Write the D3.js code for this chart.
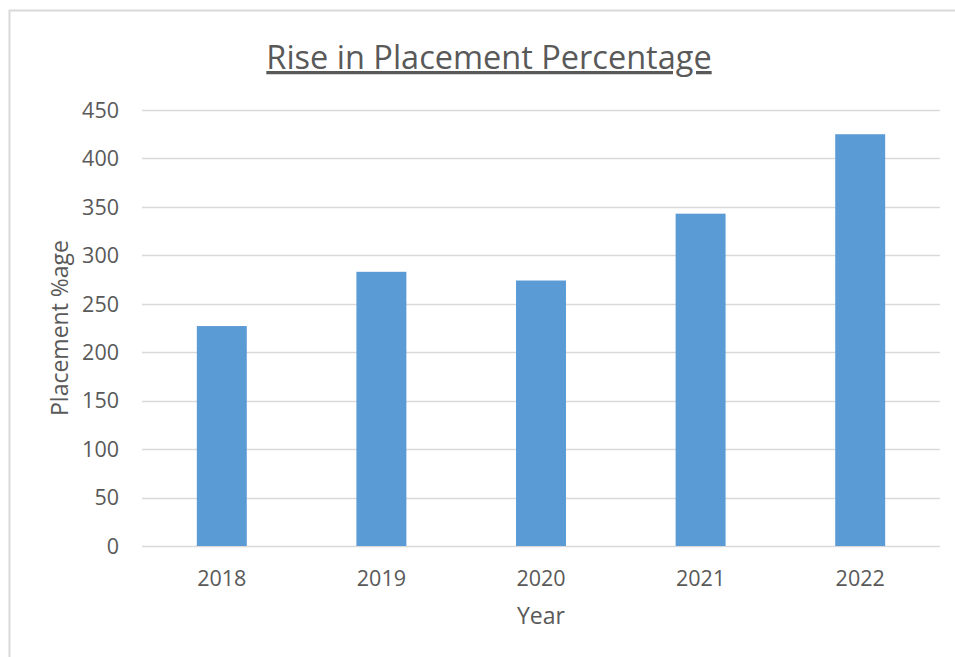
<!DOCTYPE html>
<html>
<head>
<meta charset="utf-8">
<script src="https://cdn.jsdelivr.net/npm/d3@7"></script>
<style>
  body { margin: 0; background: #fff; }
  text { font-family: "Open Sans", sans-serif; fill: #595959; }
</style>
</head>
<body>
<svg id="svg"></svg>
<script>
var years = ["2018", "2019", "2020", "2021", "2022"];
var placement = [227, 283, 274, 343, 425];
var yTicks = [0, 50, 100, 150, 200, 250, 300, 350, 400, 450];

var W = 955, H = 657;
var margin = {top: 110, right: 15, bottom: 111, left: 142};
var plotW = 940 - margin.left, plotH = 546 - margin.top;

var svg = d3.select("#svg")
    .attr("width", W)
    .attr("height", H);

// chart frame
svg.append("rect")
    .attr("x", 9.5).attr("y", 10.5)
    .attr("width", 1000).attr("height", 700)
    .attr("fill", "none")
    .attr("stroke", "#d9d9d9")
    .attr("stroke-width", 2);

var x = d3.scaleBand()
    .domain(years)
    .range([0, plotW])
    .padding(0);

var y = d3.scaleLinear()
    .domain([0, 450])
    .range([plotH, 0]);

var g = svg.append("g")
    .attr("transform", "translate(" + margin.left + "," + margin.top + ")");

// gridlines
g.selectAll(".grid")
    .data(yTicks)
    .enter().append("line")
    .attr("x1", 0).attr("x2", plotW)
    .attr("y1", function(d) { return Math.round(y(d)) + 0.5; })
    .attr("y2", function(d) { return Math.round(y(d)) + 0.5; })
    .attr("stroke", "#d9d9d9")
    .attr("stroke-width", 1.5);

var barW = x.bandwidth() * 0.313;

g.selectAll(".bar")
    .data(placement)
    .enter().append("rect")
    .attr("x", function(d, i) { return x(years[i]) + x.bandwidth() / 2 - barW / 2; })
    .attr("y", function(d) { return y(d); })
    .attr("width", barW)
    .attr("height", function(d) { return y(0) - y(d); })
    .attr("fill", "#5b9bd5");

// y tick labels
g.selectAll(".ylab")
    .data(yTicks)
    .enter().append("text")
    .attr("x", -23)
    .attr("y", function(d) { return y(d); })
    .attr("dy", "0.36em")
    .attr("text-anchor", "end")
    .style("font-size", "21.5px")
    .text(function(d) { return d; });

// x tick labels
g.selectAll(".xlab")
    .data(years)
    .enter().append("text")
    .attr("x", function(d) { return x(d) + x.bandwidth() / 2; })
    .attr("y", plotH + 40)
    .attr("text-anchor", "middle")
    .style("font-size", "21.5px")
    .text(function(d) { return d; });

// axis titles
svg.append("text")
    .attr("x", margin.left + plotW / 2)
    .attr("y", 624)
    .attr("text-anchor", "middle")
    .style("font-size", "23px")
    .text("Year");

svg.append("text")
    .attr("transform", "translate(68," + (margin.top + plotH / 2) + ") rotate(-90)")
    .attr("text-anchor", "middle")
    .style("font-size", "23px")
    .text("Placement %age");

// title
svg.append("text")
    .attr("x", 489)
    .attr("y", 69)
    .attr("text-anchor", "middle")
    .style("font-size", "32.5px")
    .style("text-decoration", "underline")
    .text("Rise in Placement Percentage");
</script>
</body>
</html>
